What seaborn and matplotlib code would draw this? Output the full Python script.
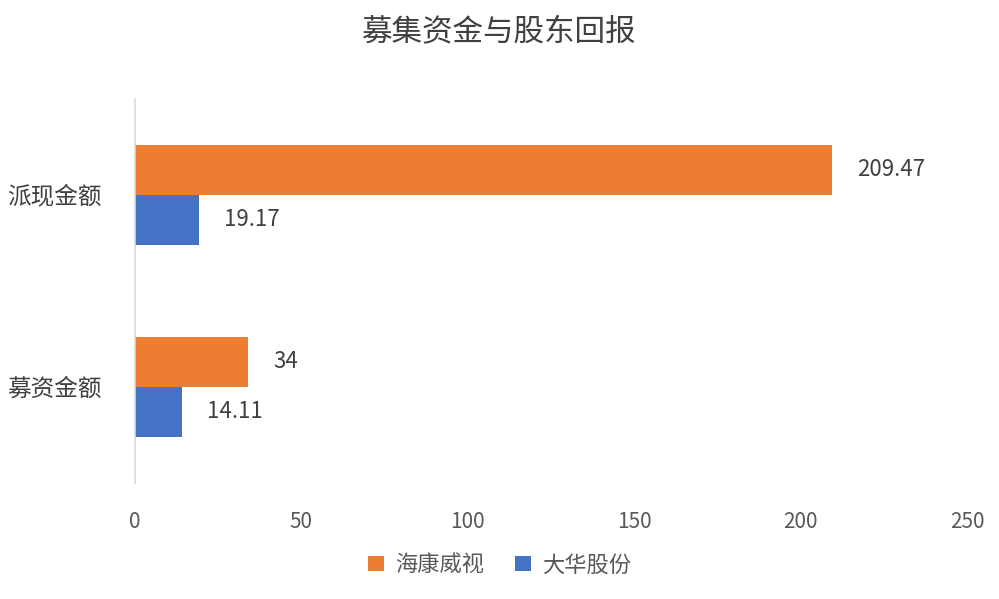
import matplotlib
matplotlib.use("Agg")
import matplotlib.pyplot as plt
import seaborn as sns
import pandas as pd

categories = ["派现金额", "募资金额"]
series = ["海康威视", "大华股份"]
hk_values = [209.47, 34]
dh_values = [19.17, 14.11]
value_labels_hk = ["209.47", "34"]
value_labels_dh = ["19.17", "14.11"]
x_ticks = [0, 50, 100, 150, 200, 250]

sns.set_theme(style="white")
plt.rcParams['font.family'] = ['Noto Sans CJK SC', 'DejaVu Sans']

rows = []
for c, a, b in zip(categories, hk_values, dh_values):
    rows.append({"cat": c, "series": series[0], "val": a})
    rows.append({"cat": c, "series": series[1], "val": b})
df = pd.DataFrame(rows)

fig = plt.figure(figsize=(9.99, 5.99), dpi=100)
ax = fig.add_axes([0.135, 0.194, 0.833, 0.641])
palette = {series[0]: "#ED7D31", series[1]: "#4472C4"}
sns.barplot(data=df, y="cat", x="val", hue="series", order=categories,
            hue_order=series, palette=palette, orient="h", width=0.52,
            saturation=1, ax=ax, legend=True, linewidth=0)

for cont, labels in zip(ax.containers, [value_labels_hk, value_labels_dh]):
    ax.bar_label(cont, labels=labels, padding=18, fontsize=16, color="#404040")

ax.set_xlim(0, 250)
ax.set_ylim(1.5, -0.5)
ax.set_xticks(x_ticks)
ax.set_xticklabels([str(t) for t in x_ticks], fontsize=15, color="#595959")
ax.tick_params(axis='x', pad=20, length=0)
ax.tick_params(axis='y', length=0, pad=24)
for lab in ax.get_yticklabels():
    lab.set_fontsize(17)
    lab.set_color("#404040")
ax.set_xlabel("")
ax.set_ylabel("")
for s in ["top", "right", "bottom"]:
    ax.spines[s].set_visible(False)
ax.spines["left"].set_color("#D9D9D9")
ax.spines["left"].set_linewidth(1.2)

ax.legend_.remove()
handles, labels = ax.get_legend_handles_labels()
fig.legend(handles, labels, loc="center", bbox_to_anchor=(0.5, 0.057), ncol=2,
           frameon=False, fontsize=16, handlelength=0.7, handleheight=0.7,
           columnspacing=1.4, handletextpad=0.5, labelcolor="#595959")

fig.text(0.5, 0.947, "募集资金与股东回报", ha="center", va="center",
         fontsize=22, color="#404040")

fig.savefig("out.png", dpi=100)
